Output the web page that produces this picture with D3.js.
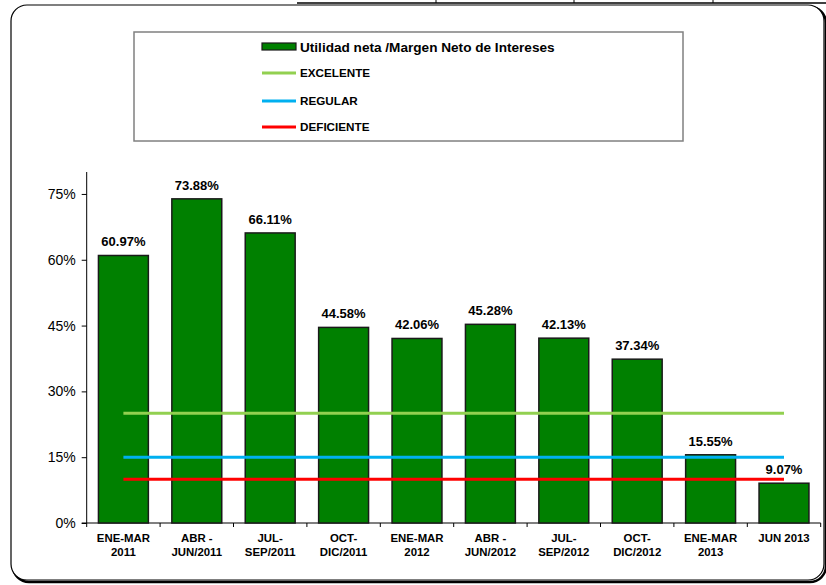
<!DOCTYPE html>
<html>
<head>
<meta charset="utf-8">
<title>Utilidad neta / Margen Neto de Intereses</title>
<style>
body { margin: 0; background: #fff; }
text { font-family: "Liberation Sans", Arial, sans-serif; }
.bar { fill: #008000; stroke: #1a1a1a; stroke-width: 1.5px; }
.val { font-size: 13px; font-weight: bold; text-anchor: middle; }
.ytick text { font-size: 14px; }
.xlab { font-size: 11.4px; font-weight: bold; text-anchor: middle; }
.leg { font-size: 11.7px; font-weight: bold; }
</style>
</head>
<body>
<svg width="826" height="585"></svg>
<script src="https://d3js.org/d3.v7.min.js"></script>
<script>

var categories = ["ENE-MAR|2011", "ABR -|JUN/2011", "JUL-|SEP/2011", "OCT-|DIC/2011", "ENE-MAR|2012",
                  "ABR -|JUN/2012", "JUL-|SEP/2012", "OCT-|DIC/2012", "ENE-MAR|2013", "JUN 2013"];
var values = [60.97, 73.88, 66.11, 44.58, 42.06, 45.28, 42.13, 37.34, 15.55, 9.07];
var yTicks = [0, 15, 30, 45, 60, 75];

var refNames = ["EXCELENTE", "REGULAR", "DEFICIENTE"];
var refValues = [25, 15, 10];
var refColors = ["#92d050", "#00b0f0", "#ff0000"];

var svg = d3.select("svg");

// bits of a table above the chart
svg.append("line").attr("x1", 297).attr("x2", 826).attr("y1", 3).attr("y2", 3)
  .attr("stroke", "#000").attr("stroke-width", 1.5);
[436, 574, 713].forEach(function(x) {
  svg.append("line").attr("x1", x).attr("x2", x).attr("y1", 0).attr("y2", 3)
    .attr("stroke", "#000").attr("stroke-width", 1);
});

// chart frame with a little shadow
svg.append("rect").attr("x", 13).attr("y", 7).attr("width", 813).attr("height", 575)
  .attr("rx", 16).attr("fill", "none").attr("stroke", "#000").attr("stroke-width", 2.5);
svg.append("rect").attr("x", 11).attr("y", 5).attr("width", 813).attr("height", 575)
  .attr("rx", 16).attr("fill", "#fff").attr("stroke", "#000").attr("stroke-width", 1.2);

var x = d3.scaleBand().domain(categories).range([86.7, 820.7]).paddingInner(0.32).paddingOuter(0.16);
var y = d3.scaleLinear().domain([0, 80]).range([523, 172]);

// y axis
var gy = svg.append("g").attr("class", "ytick").attr("transform", "translate(86.7,0)")
  .call(d3.axisLeft(y).tickValues(yTicks).tickSize(5).tickPadding(6)
    .tickFormat(function(d) { return d + "%"; }));
gy.select(".domain").attr("stroke", "#000").attr("d", "M0," + y(80) + "V" + y(0));
gy.selectAll("text").attr("fill", "#000");

// x axis with ticks at band edges
var gx = svg.append("g").attr("transform", "translate(0," + y(0) + ")");
gx.append("line").attr("x1", 81.7).attr("x2", 820.7).attr("stroke", "#000").attr("stroke-width", 1);
var edges = categories.map(function(c) { return x(c) - x.step() * x.paddingInner() / 2; });
edges.push(820.7);
gx.selectAll(".edge").data(edges).enter().append("line")
  .attr("x1", function(d) { return d; }).attr("x2", function(d) { return d; })
  .attr("y1", 0).attr("y2", 4).attr("stroke", "#000");

// bars
svg.selectAll(".bar").data(values).enter().append("rect")
  .attr("class", "bar")
  .attr("x", function(d, i) { return x(categories[i]); })
  .attr("width", x.bandwidth())
  .attr("y", function(d) { return y(d); })
  .attr("height", function(d) { return y(0) - y(d); });

// value labels
svg.selectAll(".val").data(values).enter().append("text")
  .attr("class", "val")
  .attr("x", function(d, i) { return x(categories[i]) + x.bandwidth() / 2; })
  .attr("y", function(d) { return y(d) - 9; })
  .text(function(d) { return d.toFixed(2) + "%"; });

// category labels
categories.forEach(function(c) {
  var t = svg.append("text").attr("class", "xlab")
    .attr("x", x(c) + x.bandwidth() / 2).attr("y", 542);
  c.split("|").forEach(function(part, j) {
    t.append("tspan").attr("x", x(c) + x.bandwidth() / 2).attr("dy", j ? 14 : 0).text(part);
  });
});

// reference lines
var first = x(categories[0]) + x.bandwidth() / 2;
var last = x(categories[categories.length - 1]) + x.bandwidth() / 2;
refValues.forEach(function(v, i) {
  svg.append("line").attr("x1", first).attr("x2", last)
    .attr("y1", y(v)).attr("y2", y(v))
    .attr("stroke", refColors[i]).attr("stroke-width", 3);
});

// legend
var leg = svg.append("g");
leg.append("rect").attr("x", 134).attr("y", 32).attr("width", 549).attr("height", 109)
  .attr("fill", "#fff").attr("stroke", "#808080").attr("stroke-width", 1.5);
leg.append("rect").attr("x", 262).attr("y", 43).attr("width", 34).attr("height", 7)
  .attr("fill", "#008000").attr("stroke", "#1a1a1a").attr("stroke-width", 1.2);
leg.append("text").attr("x", 300).attr("y", 51.5).attr("font-size", 13.6).attr("font-weight", "bold")
  .text("Utilidad neta /Margen Neto de Intereses");
var legY = [73, 101, 127];
refNames.forEach(function(n, i) {
  leg.append("line").attr("x1", 262).attr("x2", 296).attr("y1", legY[i]).attr("y2", legY[i])
    .attr("stroke", refColors[i]).attr("stroke-width", 3);
  leg.append("text").attr("class", "leg").attr("x", 300).attr("y", legY[i] + 4).text(n);
});
</script>
</body>
</html>
